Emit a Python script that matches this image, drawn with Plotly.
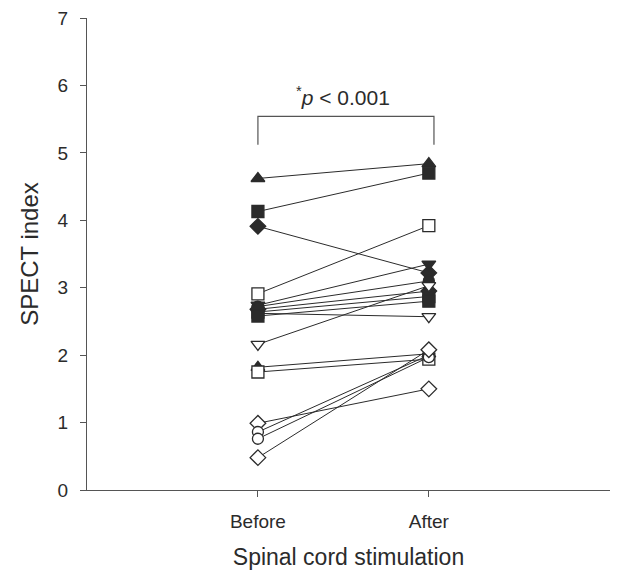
import plotly.graph_objects as go

# Paired SPECT index per patient, before and after spinal cord stimulation
categories = ["Before", "After"]
symbols = ["triangle-up", "square", "diamond", "square", "triangle-down",
           "circle", "triangle-down", "square", "diamond", "square",
           "triangle-down", "triangle-up", "square", "diamond", "circle",
           "circle", "diamond"]
filled = [True, True, True, False, True,
          True, False, True, True, True,
          False, True, False, False, False,
          False, False]
before = [4.62, 4.13, 3.91, 2.91, 2.74,
          2.72, 2.62, 2.64, 2.68, 2.58,
          2.16, 1.82, 1.75, 0.99, 0.86,
          0.76, 0.48]
after = [4.84, 4.70, 3.22, 3.92, 3.35,
         3.10, 2.57, 2.87, 2.95, 2.80,
         3.03, 2.02, 1.94, 1.50, 2.00,
         1.97, 2.08]
y_ticks = [0, 1, 2, 3, 4, 5, 6, 7]

INK = "#2b2b2b"
FONT = "Liberation Sans, Arial, sans-serif"
xpos = [1, 2]

fig = go.Figure()
for sym, fill, b, a in zip(symbols, filled, before, after):
    fig.add_trace(go.Scatter(
        x=xpos, y=[b, a], mode="lines+markers",
        line=dict(color=INK, width=1),
        marker=dict(symbol=sym, size=12 if sym != "circle" else 11,
                    color=INK if fill else "white",
                    line=dict(color=INK, width=1.3)),
        showlegend=False, hoverinfo="skip",
    ))

# significance bracket between the two time points
fig.add_shape(type="path", path="M 1,5.12 L 1,5.54 L 2.03,5.54 L 2.03,5.12",
              xref="x", yref="y", line=dict(color="#555", width=1.2))
fig.add_annotation(x=1.5, y=5.84, xref="x", yref="y",
                   text="<sup>*</sup><i>p</i> < 0.001", showarrow=False,
                   font=dict(family=FONT, size=21, color=INK))

fig.update_layout(
    width=618, height=576,
    margin=dict(l=87, r=8, t=14, b=86),
    paper_bgcolor="white", plot_bgcolor="white",
    font=dict(family=FONT, size=19, color=INK),
)
fig.update_xaxes(
    range=[0, 3.06], tickvals=xpos, ticktext=categories,
    showgrid=False, zeroline=False, showline=True, linecolor="#555",
    linewidth=1.2, ticks="outside", ticklen=6, tickcolor="#555",
    tickfont=dict(size=19, color=INK), ticklabelstandoff=8,
    title=dict(text="Spinal cord stimulation", font=dict(size=23, color=INK),
               standoff=17),
)
fig.update_yaxes(
    range=[0, 7], tickvals=y_ticks, showgrid=False, zeroline=False,
    showline=True, linecolor="#555", linewidth=1.2, ticks="outside",
    ticklen=6, tickcolor="#555", tickfont=dict(size=19, color=INK),
    ticklabelstandoff=8,
    title=dict(text="SPECT index", font=dict(size=24, color=INK), standoff=12),
)

fig.write_html("out.html")
